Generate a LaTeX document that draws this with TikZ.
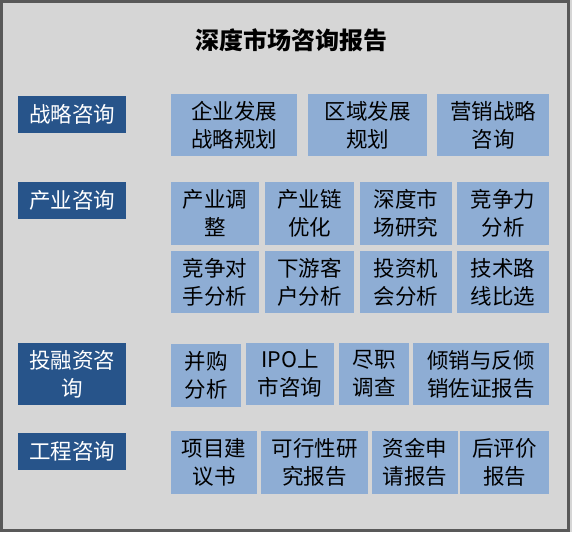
\documentclass[tikz,border=0pt]{standalone}
\usepackage{fontspec}
\setmainfont{Noto Sans CJK SC}
\definecolor{bg}{HTML}{D6D6D6}
\definecolor{frame}{HTML}{595959}
\definecolor{dark}{HTML}{27548A}
\definecolor{light}{HTML}{8EADD4}
\begin{document}
\begin{tikzpicture}[x=1pt,y=-1pt,
  cat/.style={fill=dark,text=white,inner sep=0pt,align=center,font=\fontsize{21.5}{28}\selectfont},
  item/.style={fill=light,text=black,inner sep=0pt,align=center,font=\fontsize{21.5}{28}\selectfont},
  ttl/.style={inner sep=0pt,font=\fontsize{24}{28}\selectfont\bfseries}]
\fill[bg] (0,0) rectangle (572,532);
\useasboundingbox (0,0) rectangle (572,532);
\draw[frame,line width=3pt] (1.5,1.5) rectangle (568,530.5);
\node[ttl] (title) at (291,40) {深度市场咨询报告};
% categories
\node[cat,minimum width=108pt,minimum height=37pt] (L1) at (72,114.5) {战略咨询};
\node[cat,minimum width=108pt,minimum height=37pt] (L2) at (72,200.5) {产业咨询};
\node[cat,minimum width=108pt,minimum height=62pt] (L3) at (72,374) {投融资咨\\询};
\node[cat,minimum width=108pt,minimum height=37pt] (L4) at (72,451.5) {工程咨询};
% row 1
\node[item,minimum width=126pt,minimum height=62pt] (a1) at (234,125) {企业发展\\战略规划};
\node[item,minimum width=119pt,minimum height=62pt] (a2) at (367.5,125) {区域发展\\规划};
\node[item,minimum width=112pt,minimum height=62pt] (a3) at (493,125) {营销战略\\咨询};
% row 2
\node[item,minimum width=88pt,minimum height=63pt] (b1) at (215,213.5) {产业调\\整};
\node[item,minimum width=89pt,minimum height=63pt] (b2) at (309.5,213.5) {产业链\\优化};
\node[item,minimum width=92pt,minimum height=63pt] (b3) at (406,213.5) {深度市\\场研究};
\node[item,minimum width=92pt,minimum height=63pt] (b4) at (503,213.5) {竞争力\\分析};
% row 3
\node[item,minimum width=88pt,minimum height=62pt] (c1) at (215,282) {竞争对\\手分析};
\node[item,minimum width=89pt,minimum height=62pt] (c2) at (309.5,282) {下游客\\户分析};
\node[item,minimum width=92pt,minimum height=62pt] (c3) at (406,282) {投资机\\会分析};
\node[item,minimum width=92pt,minimum height=62pt] (c4) at (503,282) {技术路\\线比选};
% row 4
\node[item,minimum width=70pt,minimum height=63pt] (d1) at (206,375.5) {并购\\分析};
\node[item,minimum width=88pt,minimum height=62pt] (d2) at (290,374) {IPO上\\市咨询};
\node[item,minimum width=70pt,minimum height=62pt] (d3) at (374,374) {尽职\\调查};
\node[item,minimum width=136pt,minimum height=62pt] (d4) at (481,374) {倾销与反倾\\销佐证报告};
% row 5
\node[item,minimum width=86pt,minimum height=63pt] (e1) at (214,462.5) {项目建\\议书};
\node[item,minimum width=107pt,minimum height=63pt] (e2) at (314.5,462.5) {可行性研\\究报告};
\node[item,minimum width=86pt,minimum height=63pt] (e3) at (415,462.5) {资金申\\请报告};
\node[item,minimum width=89pt,minimum height=63pt] (e4) at (504.5,462.5) {后评价\\报告};
\end{tikzpicture}
\end{document}
